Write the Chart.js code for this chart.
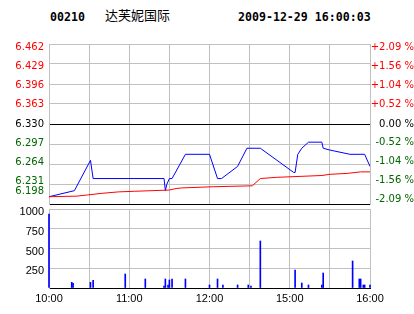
<!DOCTYPE html>
<html>
<head>
<meta charset="utf-8">
<script src="https://cdn.jsdelivr.net/npm/chart.js@4.4.0/dist/chart.umd.min.js"></script>
<style>
	html, body { margin: 0; padding: 0; background: #fff; }
	#wrap { position: relative; width: 414px; height: 314px; overflow: hidden; }
	#priceChart { position: absolute; left: 0; top: 0; }
	#volChart { position: absolute; left: 0; top: 205px; }
	.title { position: absolute; top: 10px; line-height: 14px; font: bold 11.6px 'DejaVu Sans Mono', monospace; color: #000; white-space: nowrap; }
	.name { position: absolute; top: 7px; left: 105px; line-height: 16px; font-size: 13px; font-family: 'Noto Sans CJK SC', sans-serif; color: #000; white-space: nowrap; }
</style>
</head>
<body>
<div id="wrap">
	<div class="title" style="left:50px">00210</div>
	<div class="name">达芙妮国际</div>
	<div class="title" style="left:238px">2009-12-29 16:00:03</div>
	<canvas id="priceChart" width="414" height="205"></canvas>
	<canvas id="volChart" width="414" height="109"></canvas>
</div>
<script>
// price line (blue)
const priceTimes = ['10:00', '10:19', '10:31', '10:33', '11:26', '11:27', '11:28', '11:30', '11:32', '11:42', '12:00', '12:06', '12:09', '12:21', '12:28', '14:38', '15:03', '15:04', '15:06', '15:09', '15:14', '15:24', '15:25', '15:30', '15:45', '15:56', '16:00'];
const prices = [6.21, 6.22, 6.27, 6.24, 6.24, 6.22, 6.23, 6.24, 6.24, 6.28, 6.28, 6.24, 6.24, 6.26, 6.29, 6.29, 6.25, 6.25, 6.28, 6.29, 6.30, 6.30, 6.29, 6.287, 6.28, 6.28, 6.26];

// average price (red)
const avgTimes = ['10:00', '10:21', '10:29', '10:39', '10:52', '11:04', '11:17', '11:30', '11:35', '11:39', '12:03', '14:32', '14:38', '14:50', '15:24', '15:30', '15:43', '15:53', '16:00'];
const avgPrices = [6.210, 6.211, 6.213, 6.2155, 6.218, 6.219, 6.220, 6.221, 6.2235, 6.2245, 6.2265, 6.228, 6.240, 6.242, 6.245, 6.247, 6.2485, 6.251, 6.251];

// volume bars
const volTimes = ['10:00', '10:17', '10:18', '10:31', '10:33', '10:57', '11:12', '11:26', '11:27', '11:29', '11:30', '11:32', '11:42', '12:00', '12:06', '12:10', '12:21', '12:29', '14:31', '14:38', '15:04', '15:09', '15:14', '15:24', '15:25', '15:47', '15:52', '15:53', '15:55', '15:56', '16:00'];
const volumes = [935, 72, 59, 72, 97, 177, 114, 25, 114, 38, 101, 114, 114, 38, 114, 38, 38, 38, 25, 595, 228, 63, 38, 38, 190, 342, 114, 114, 38, 38, 38];

// axis ticks
const priceTicks = [6.198, 6.231, 6.264, 6.297, 6.330, 6.363, 6.396, 6.429, 6.462];
const pctLabels = ['-2.09 %', '-1.56 %', '-1.04 %', '-0.52 %', '0.00 %', '+0.52 %', '+1.04 %', '+1.56 %', '+2.09 %'];
const volTicks = [0, 250, 500, 750, 1000];
const timeTicks = ['10:00', '10:30', '11:00', '11:30', '12:00', '14:30', '15:00', '15:30', '16:00'];

// morning 10:00-12:30, afternoon 14:30-16:00 -> trading minutes 0..240
function toMinute(t) {
	const [h, m] = t.split(':').map(Number);
	const mins = h * 60 + m;
	return mins <= 750 ? mins - 600 : mins - 870 + 150;
}
const pts = (times, vals) => times.map((t, i) => ({ x: toMinute(t), y: vals[i] }));

const RED = '#ff0000';
const GREEN = '#006600';
const GRID = '#c0c0c0';

// small vertical nudges of price labels (px, + is down), done with a blank extra line
const leftNudge = [-13, -2.5, -1.5, -1, 0, 0.5, 1.5, 2.5, 3.5];
const rightNudge = [-4.5, -3.3, -2.3, -1.6, 0, 0, 1.4, 2.4, 3.4];

function nudged(text, s) {
	if (!s) return text;
	return s < 0 ? [text, ''] : ['', text];
}
function nudgeFont(family, size, s) {
	return { family: family, size: size, lineHeight: s ? (2 * Math.abs(s)) + 'px' : 1.2 };
}
const colorByIndex = i => (i > 4 ? RED : i === 4 ? '#000' : GREEN);

const fixY = w => scale => { scale.width = w; scale.paddingTop = 0; scale.paddingBottom = 0; };
const fixX = h => scale => { scale.height = h; scale.paddingLeft = 0; scale.paddingRight = 0; };

new Chart('priceChart', {
	type: 'line',
	data: {
		datasets: [
			{ data: pts(avgTimes, avgPrices), borderColor: RED, borderWidth: 1, pointRadius: 0, tension: 0 },
			{ data: pts(priceTimes, prices), borderColor: '#0000ff', borderWidth: 1, pointRadius: 0, tension: 0 },
		],
	},
	options: {
		responsive: false,
		animation: false,
		layout: { padding: { top: 44, bottom: 1, left: 0, right: 0 } },
		plugins: { legend: { display: false }, tooltip: { enabled: false } },
		scales: {
			x: {
				type: 'linear',
				min: 0,
				max: 240,
				ticks: { stepSize: 30, display: false },
				grid: { color: GRID, drawTicks: false },
				border: { color: '#000' },
				afterFit: fixX(0),
			},
			y: {
				position: 'left',
				min: 6.198,
				max: 6.462,
				afterBuildTicks: scale => { scale.ticks = priceTicks.map(v => ({ value: v })); },
				ticks: {
					padding: 5,
					autoSkip: false,
					callback: (v, i) => nudged(priceTicks[i].toFixed(3), leftNudge[i]),
					color: ctx => colorByIndex(ctx.index),
					font: ctx => nudgeFont('DejaVu Sans', 10, leftNudge[ctx.index]),
				},
				grid: {
					drawTicks: false,
					color: ctx => (ctx.index === 0 || ctx.index === 4 ? '#000' : GRID),
				},
				border: { color: GRID },
				afterFit: fixY(49),
			},
			y2: {
				position: 'right',
				min: 6.198,
				max: 6.462,
				afterBuildTicks: scale => { scale.ticks = priceTicks.map(v => ({ value: v })); },
				ticks: {
					padding: 0,
					autoSkip: false,
					crossAlign: 'far',
					callback: (v, i) => nudged(pctLabels[i], rightNudge[i]),
					color: ctx => colorByIndex(ctx.index),
					font: ctx => nudgeFont('DejaVu Sans', 10, rightNudge[ctx.index]),
				},
				grid: { display: false, drawTicks: false },
				border: { color: GRID },
				afterFit: fixY(44),
			},
		},
	},
});

new Chart('volChart', {
	type: 'bar',
	data: {
		datasets: [
			{ data: pts(volTimes, volumes), backgroundColor: '#0000ff', barThickness: 1, clip: false },
		],
	},
	options: {
		responsive: false,
		animation: false,
		layout: { padding: { top: 4, bottom: 0, left: 0, right: 44 } },
		plugins: { legend: { display: false }, tooltip: { enabled: false } },
		scales: {
			x: {
				type: 'linear',
				min: 0,
				max: 240,
				offset: false,
				ticks: {
					stepSize: 30,
					autoSkip: false,
					maxRotation: 0,
					padding: 4,
					color: '#000',
					font: { family: 'Liberation Sans', size: 11 },
					callback: (v, i) => (i % 2 === 0 ? timeTicks[i] : ''),
				},
				grid: { color: GRID, drawTicks: false, offset: false },
				border: { color: '#000' },
				afterFit: fixX(26),
			},
			y: {
				min: 0,
				max: 1000,
				afterBuildTicks: scale => { scale.ticks = volTicks.map(v => ({ value: v })); },
				ticks: {
					z: 1,
					padding: 5,
					autoSkip: false,
					labelOffset: 3,
					color: '#000',
					font: { family: 'Liberation Sans', size: 11 },
					callback: (v, i) => (volTicks[i] === 0 ? '' : String(volTicks[i])),
				},
				grid: { color: GRID, drawTicks: false },
				border: { color: GRID },
				afterFit: fixY(49),
			},
		},
	},
});
</script>
</body>
</html>
